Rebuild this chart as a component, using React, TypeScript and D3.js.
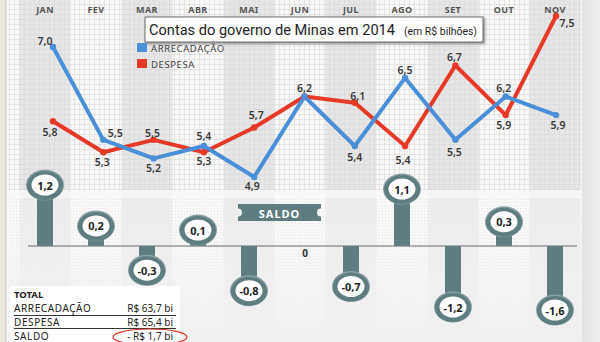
import React from "react";
import * as d3 from "d3";

const months = ["JAN", "FEV", "MAR", "ABR", "MAI", "JUN", "JUL", "AGO", "SET", "OUT", "NOV"];
const arrecadacao = [7.0, 5.5, 5.2, 5.4, 4.9, 6.2, 5.4, 6.5, 5.5, 6.2, 5.9];
const despesa = [5.8, 5.3, 5.5, 5.3, 5.7, 6.2, 6.1, 5.4, 6.7, 5.9, 7.5];
const saldo = [1.2, 0.2, -0.3, 0.1, -0.8, 0, -0.7, 1.1, -1.2, 0.3, -1.6];
const totalLabels = ["ARRECADAÇÃO", "DESPESA", "SALDO"];
const totalValues = ["R$ 63,7 bi", "R$ 65,4 bi", "- R$ 1,7 bi"];
const seriesNames = ["ARRECADAÇÃO", "DESPESA"];

// label placement offsets (dx, dy) relative to the point
const arrOff: ([number, number] | null)[] = [[-8, -6], [12, -7], [0, 10], [0, -10], [-2, 9], [0, -9], [0, 11], [0, -8], [-1, 12], [-2, -9], [2, 10]];
const despOff: ([number, number] | null)[] = [[-3, 11], [-1, 10], [-1, -7], [0, 9], [2, -12], null, [3, -7], [-2, 14], [-1, -9], [-2, 10], [11, 7]];

const W = 600;
const H = 342;
const BLUE = "#4a8fd8";
const RED = "#e53a28";
const TEAL = "#5f7d81";
const FONT = "'Noto Sans', 'Open Sans', sans-serif";
const TITLE_FONT = "Roboto, 'Noto Sans', sans-serif";

const locale = d3.formatLocale({ decimal: ",", thousands: ".", grouping: [3], currency: ["R$", ""], minus: "-" });
const fmt = locale.format(".1f");

export default function App() {
  const col = d3.scaleBand<string>().domain(months).range([19.5, 580.5]).padding(0);
  const cx = (i: number) => (col(months[i]) as number) + col.bandwidth() / 2;
  const px = d3.scaleLinear().domain([0, months.length - 1]).range([53, 556]);
  const y = d3.scaleLinear().domain([4.9, 7.5]).range([177, 16]);
  const zeroY = 246;
  const sScale = d3.scaleLinear().domain([0, 0.1, 1.2, 1.6]).range([0, 16, 61, 64]);
  const line = d3
    .line<number>()
    .x((_, i) => px(i))
    .y((d) => y(d));

  const labelStyle = { fontFamily: FONT, fontSize: 10.5, fontWeight: 600, fill: "#3a3a3a" } as const;

  return (
    <svg width={W} height={H} style={{ position: "absolute", left: 0, top: 0, display: "block" }}>
      <defs>
        <pattern id="grid" width={5} height={5} patternUnits="userSpaceOnUse">
          <path d="M4.5 0 V5 M0 4.5 H5" stroke="#d9d9d9" strokeWidth={0.6} fill="none" />
        </pattern>
        <pattern id="dots" width={3} height={3} patternUnits="userSpaceOnUse">
          <rect x={1} y={1} width={1} height={1} fill="#dadada" />
        </pattern>
        <linearGradient id="fadeBottom" x1="0" y1="0" x2="0" y2="1">
          <stop offset="0" stopColor="#f8f8f8" stopOpacity={0.35} />
          <stop offset="1" stopColor="#f0f0f0" stopOpacity={1} />
        </linearGradient>
        <linearGradient id="rightEdge" x1="0" y1="0" x2="1" y2="0">
          <stop offset="0" stopColor="#e2e2e2" />
          <stop offset="1" stopColor="#eeeeee" />
        </linearGradient>
        <filter id="shadow" x="-5%" y="-20%" width="110%" height="160%">
          <feDropShadow dx={1.5} dy={1.5} stdDeviation={1} floodColor="#555" floodOpacity={0.6} />
        </filter>
      </defs>

      {/* background */}
      <rect x={0} y={0} width={W} height={H} fill="#f8f8f7" />
      <rect x={0} y={0} width={6} height={H} fill="#e9e6dc" />
      <line x1={6} x2={6} y1={0} y2={H} stroke="#c9c6bd" strokeWidth={1} />
      <rect x={582} y={0} width={18} height={H} fill="url(#rightEdge)" />

      {/* column bands */}
      {months.map((m, i) =>
        i % 2 === 0 ? (
          <rect key={"b" + m} x={col(m)} y={0} width={col.bandwidth()} height={332} fill="#e6e6e6" />
        ) : null
      )}
      <rect x={8} y={0} width={574} height={192} fill="url(#grid)" />
      <rect x={8} y={197} width={574} height={138} fill="url(#dots)" />
      <rect x={8} y={190} width={574} height={8} fill="#f8f8f8" opacity={0.8} />
      <rect x={8} y={198} width={574} height={144} fill="url(#fadeBottom)" />

      {/* month labels */}
      {months.map((m, i) => (
        <text
          key={"m" + m}
          x={cx(i)}
          y={9}
          textAnchor="middle"
          dominantBaseline="central"
          style={{ fontFamily: FONT, fontSize: 9, fontWeight: 700, fill: "#555", letterSpacing: 0.4 }}
        >
          {m}
        </text>
      ))}

      {/* title */}
      <rect x={145} y={17} width={338} height={25} fill="#fff" stroke="#6f6f6f" strokeWidth={1} filter="url(#shadow)" />
      <text x={149} y={35} style={{ fontFamily: TITLE_FONT, fontSize: 15, fill: "#1e1e1e" }} textLength={246} lengthAdjust="spacingAndGlyphs">
        Contas do governo de Minas em 2014
      </text>
      <text x={404} y={35} style={{ fontFamily: TITLE_FONT, fontSize: 10, fill: "#1e1e1e" }} textLength={73} lengthAdjust="spacingAndGlyphs">
        (em R$ bilhões)
      </text>

      {/* legend */}
      {seriesNames.map((n, k) => (
        <g key={"lg" + n} transform={`translate(137,${43 + k * 16})`}>
          <rect x={0} y={0} width={10} height={9} fill={k === 0 ? BLUE : RED} />
          <text x={14} y={5} dominantBaseline="central" style={{ fontFamily: FONT, fontSize: 9.5, fill: "#444", letterSpacing: 0.6 }}>
            {n}
          </text>
        </g>
      ))}

      {/* lines */}
      <path d={line(despesa) || ""} fill="none" stroke={RED} strokeWidth={4} strokeLinejoin="round" strokeLinecap="round" />
      <path d={line(arrecadacao) || ""} fill="none" stroke={BLUE} strokeWidth={4} strokeLinejoin="round" strokeLinecap="round" />
      {despesa.map((v, i) => (
        <circle key={"dp" + i} cx={px(i)} cy={y(v)} r={3.2} fill={RED} />
      ))}
      {arrecadacao.map((v, i) => (
        <circle key={"ap" + i} cx={px(i)} cy={y(v)} r={3.2} fill={BLUE} />
      ))}

      {/* value labels */}
      {arrecadacao.map((v, i) => {
        const o = arrOff[i];
        if (!o) return null;
        return (
          <text key={"al" + i} x={px(i) + o[0]} y={y(v) + o[1]} textAnchor="middle" dominantBaseline="central" style={labelStyle}>
            {fmt(v)}
          </text>
        );
      })}
      {despesa.map((v, i) => {
        const o = despOff[i];
        if (!o) return null;
        return (
          <text key={"dl" + i} x={px(i) + o[0]} y={y(v) + o[1]} textAnchor="middle" dominantBaseline="central" style={labelStyle}>
            {fmt(v)}
          </text>
        );
      })}

      {/* saldo */}
      <line x1={28} x2={577} y1={zeroY} y2={zeroY} stroke="#6a6a6a" strokeWidth={1} />
      {saldo.map((v, i) => {
        const x = cx(i);
        if (v === 0) {
          return (
            <text key={"s" + i} x={x + 5} y={zeroY + 7} textAnchor="middle" dominantBaseline="central" style={{ fontFamily: FONT, fontSize: 10, fontWeight: 700, fill: "#333" }}>
              {fmt(v).replace(",0", "")}
            </text>
          );
        }
        const d = sScale(Math.abs(v));
        const cy = v > 0 ? zeroY - d : zeroY + d;
        return (
          <g key={"s" + i}>
            <rect x={x - 8} y={Math.min(cy, zeroY)} width={16} height={Math.abs(zeroY - cy)} fill={TEAL} />
            <ellipse cx={x} cy={cy} rx={19} ry={15.5} fill="#8aa0a3" />
            <ellipse cx={x} cy={cy + 0.5} rx={18} ry={14.5} fill={TEAL} />
            <ellipse cx={x} cy={cy} rx={13.5} ry={10.5} fill="#ffffff" />
            <text x={x} y={cy} textAnchor="middle" dominantBaseline="central" style={{ fontFamily: FONT, fontSize: 11, fontWeight: 700, fill: "#222" }}>
              {fmt(v)}
            </text>
          </g>
        );
      })}

      {/* SALDO banner */}
      <path
        d={`M238,204 H321 V208.5 A4,4 0 0 0 321,216.5 V221 H238 V216.5 A4,4 0 0 0 238,208.5 Z`}
        fill={TEAL}
      />
      <text x={279.5} y={213} textAnchor="middle" dominantBaseline="central" style={{ fontFamily: FONT, fontSize: 11, fontWeight: 700, fill: "#fff", letterSpacing: 1 }}>
        SALDO
      </text>

      {/* totals table */}
      <rect x={10} y={286} width={170} height={56} fill="#ffffff" />
      <text x={14} y={294.5} dominantBaseline="central" style={{ fontFamily: FONT, fontSize: 9.5, fontWeight: 700, fill: "#222" }}>
        TOTAL
      </text>
      {totalLabels.map((t, k) => (
        <g key={"t" + t}>
          <text x={14} y={307.5 + k * 14} dominantBaseline="central" style={{ fontFamily: FONT, fontSize: 10, fill: "#222", letterSpacing: 0.6 }}>
            {t}
          </text>
          <text x={173} y={307.5 + k * 14} textAnchor="end" dominantBaseline="central" style={{ fontFamily: FONT, fontSize: 10, fill: "#222" }}>
            {totalValues[k]}
          </text>
          {k < 2 ? <line x1={14} x2={176} y1={315.5 + k * 13} y2={315.5 + k * 13} stroke="#333" strokeWidth={1} /> : null}
        </g>
      ))}
      <ellipse cx={150} cy={337} rx={37} ry={8} fill="none" stroke="#e0392a" strokeWidth={1.2} />
    </svg>
  );
}
